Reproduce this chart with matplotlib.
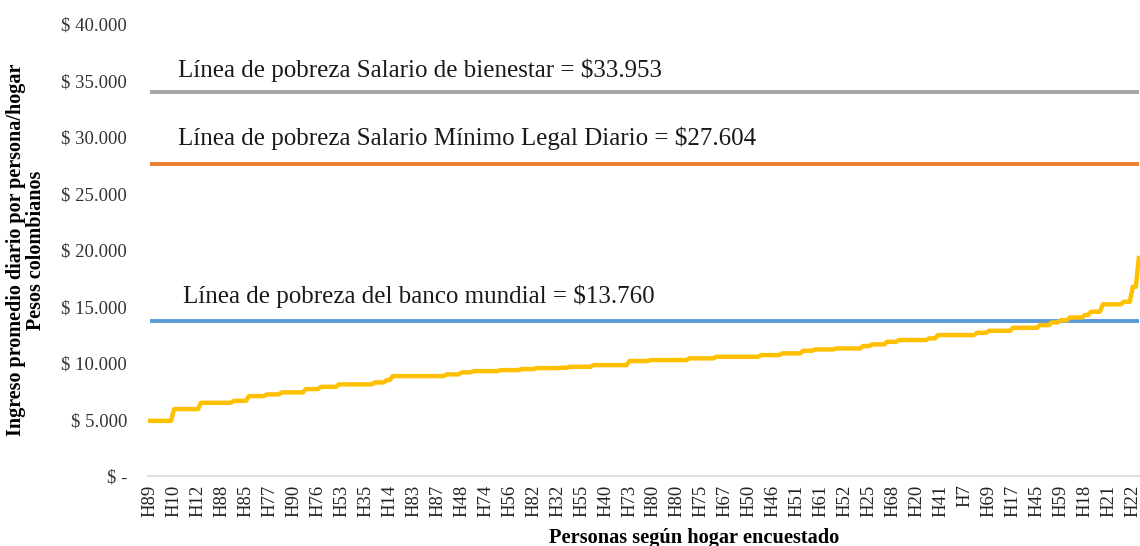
import matplotlib
matplotlib.use("Agg")
import matplotlib.pyplot as plt
import numpy as np
from matplotlib.ticker import FuncFormatter

plt.rcParams.update({
    "font.family": "serif",
    "font.serif": ["Liberation Serif", "DejaVu Serif"],
})

# ingreso diario por persona, agrupado en tramos de igual valor (valor, nro. de personas)
tramo_valor = [4890, 5930, 6490, 6660, 7080, 7230, 7410, 7700, 7900, 8115,
               8290, 8500, 8850, 9000, 9180, 9290, 9380, 9470, 9560, 9585,
               9670, 9820, 10180, 10270, 10420, 10560, 10710, 10860, 11090, 11210,
               11300, 11505, 11655, 11885, 12040, 12190, 12480, 12680, 12860, 13120,
               13360, 13600, 13800, 14040, 14250, 14540, 15200, 15430, 16750, 19300]
tramo_personas = [8, 9, 11, 5, 6, 5, 8, 5, 6, 12,
                  4, 2, 18, 5, 4, 9, 7, 5, 8, 3,
                  8, 12, 7, 13, 9, 15, 7, 7, 4, 7,
                  9, 3, 5, 4, 10, 3, 13, 4, 8, 9,
                  4, 3, 3, 5, 2, 4, 7, 3, 2, 1]

# etiquetas visibles del eje x (una de cada 8 personas)
hogares = ["H89", "H10", "H12", "H88", "H85", "H77", "H90", "H76", "H53", "H35",
           "H14", "H83", "H87", "H48", "H74", "H56", "H82", "H32", "H55", "H40",
           "H73", "H80", "H80", "H75", "H67", "H50", "H46", "H51", "H61", "H52",
           "H25", "H68", "H20", "H41", "H7", "H69", "H17", "H45", "H59", "H18",
           "H21", "H22"]
salto_etiqueta = 8

linea_bienestar = 33953
linea_minimo = 27604
linea_banco = 13760

ingreso = np.repeat(tramo_valor, tramo_personas)
n = len(ingreso)
x = np.arange(n)

fig = plt.figure(figsize=(11.4, 5.46), dpi=100)
ax = fig.add_axes([0.1298, 0.128, 0.8702, 0.828])

ax.plot(x, np.full(n, linea_bienestar), color="#A5A5A5", lw=2.8, solid_capstyle="butt")
ax.plot(x, np.full(n, linea_minimo), color="#ED7D31", lw=2.8, solid_capstyle="butt")
ax.plot(x, np.full(n, linea_banco), color="#5B9BD5", lw=2.8, solid_capstyle="butt")
ax.plot(x, ingreso, color="#FFC000", lw=3.2, solid_joinstyle="round")

ax.text(9.3, 35930, "Línea de pobreza Salario de bienestar = $33.953",
        fontsize=18, va="center", ha="left", color="#1a1a1a")
ax.text(9.3, 29910, "Línea de pobreza Salario Mínimo Legal Diario = $27.604",
        fontsize=18, va="center", ha="left", color="#1a1a1a")
ax.text(11, 15930, "Línea de pobreza del banco mundial = $13.760",
        fontsize=18, va="center", ha="left", color="#1a1a1a")

ax.set_xlim(-0.7, n - 0.6)
ax.set_ylim(0, 40000)
ax.set_yticks(np.arange(0, 40001, 5000))


def pesos(v, pos):
    if v == 0:
        return "$ -"
    return "$ " + f"{v:,.0f}".replace(",", ".")


ax.yaxis.set_major_formatter(FuncFormatter(pesos))
ticks = np.arange(0, len(hogares) * salto_etiqueta, salto_etiqueta)
ax.set_xticks(ticks)
ax.set_xticklabels(hogares, rotation=90)
ax.tick_params(axis="y", length=0, labelsize=13.5, pad=15, labelcolor="#333333")
ax.tick_params(axis="x", length=0, labelsize=13.5, pad=6, labelcolor="#222222")

for s in ["top", "right", "left"]:
    ax.spines[s].set_visible(False)
ax.spines["bottom"].set_color("#D9D9D9")
ax.spines["bottom"].set_linewidth(1.2)

ax.set_ylabel("Ingreso promedio diario por persona/hogar\nPesos colombianos",
              fontsize=14.5, fontweight="bold", linespacing=1.0)
ax.yaxis.set_label_coords(-0.103, 0.5)
fig.text(0.609, 0.006, "Personas según hogar encuestado", fontsize=14.7,
         fontweight="bold", ha="center", va="baseline")

fig.savefig("out.png", dpi=100)
